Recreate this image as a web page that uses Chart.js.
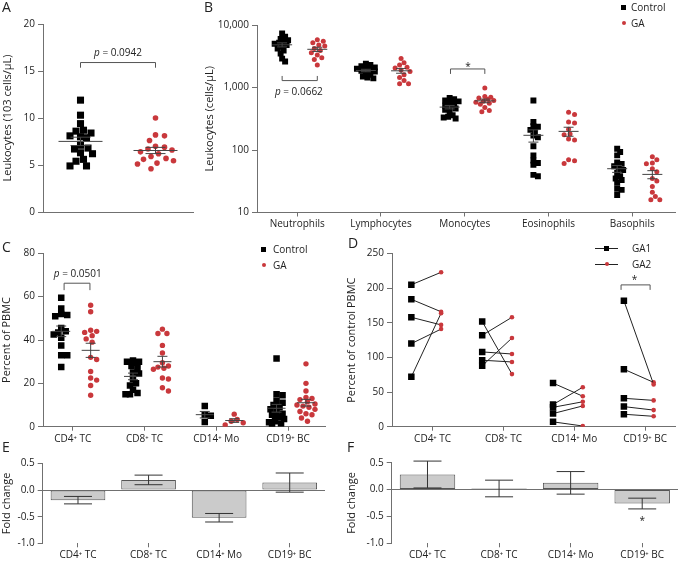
<!DOCTYPE html>
<html>
<head>
<meta charset="utf-8">
<script src="https://cdn.jsdelivr.net/npm/chart.js@4.4.1/dist/chart.umd.min.js"></script>
<style>
  body { margin: 0; background: #fff; font-family: 'Open Sans', sans-serif; color: #222; }
  #fig { position: relative; width: 680px; height: 561px; overflow: hidden; }
  canvas { position: absolute; }
  .lab { position: absolute; font-size: 14px; line-height: 14px; }
  .li { position: absolute; font-size: 10px; line-height: 14px; white-space: nowrap; }
  .sq { position: absolute; width: 5px; height: 5px; background: #000; }
  .dt { position: absolute; width: 4px; height: 4px; border-radius: 50%; background: #c9383c; }
  .ln { position: absolute; height: 1px; background: #222; }
</style>
</head>
<body>
<div id="fig">
  <canvas id="cA" width="205" height="230" style="left:0;top:0"></canvas>
  <canvas id="cB" width="477" height="240" style="left:203px;top:0"></canvas>
  <canvas id="cC" width="340" height="215" style="left:0;top:235px"></canvas>
  <canvas id="cD" width="340" height="215" style="left:340px;top:235px"></canvas>
  <canvas id="cE" width="340" height="111" style="left:0;top:450px"></canvas>
  <canvas id="cF" width="340" height="111" style="left:340px;top:450px"></canvas>

  <div class="lab" style="left:2px;top:0">A</div>
  <div class="lab" style="left:204px;top:0">B</div>
  <div class="lab" style="left:2px;top:240px">C</div>
  <div class="lab" style="left:348px;top:236px">D</div>
  <div class="lab" style="left:2px;top:440px">E</div>
  <div class="lab" style="left:347px;top:440px">F</div>

  <!-- legend B -->
  <div class="li" style="left:621px;top:0;padding-left:10px"><span class="sq" style="left:0;top:4.5px"></span>Control</div>
  <div class="li" style="left:621px;top:15.5px;padding-left:10px"><span class="dt" style="left:0.5px;top:5px"></span>GA</div>
  <!-- legend C -->
  <div class="li" style="left:261px;top:242px;padding-left:12px"><span class="sq" style="left:0;top:4.5px"></span>Control</div>
  <div class="li" style="left:261px;top:258px;padding-left:12px"><span class="dt" style="left:0.5px;top:5px"></span>GA</div>
  <!-- legend D -->
  <div class="li" style="left:595px;top:241px;padding-left:37px"><span class="ln" style="left:0;top:7px;width:23px"></span><span class="sq" style="left:9px;top:4.5px"></span>GA1</div>
  <div class="li" style="left:595px;top:257px;padding-left:37px"><span class="ln" style="left:0;top:7px;width:23px"></span><span class="dt" style="left:9.5px;top:5px"></span>GA2</div>
</div>

<script>
// ---- data ----
const leukoControl = [11.9, 10.3, 9.4, 8.7, 8.6, 8.4, 8.1, 8.0, 7.9, 7.1, 6.8, 6.7, 6.3, 6.2, 5.6, 5.4, 4.9, 4.9];
const leukoGA = [10.0, 8.2, 8.1, 7.6, 7.0, 6.9, 6.7, 6.6, 6.4, 6.2, 5.9, 5.7, 5.6, 5.45, 5.2, 5.1, 4.6];

const cellTypes = ['Neutrophils', 'Lymphocytes', 'Monocytes', 'Eosinophils', 'Basophils'];
const countsControl = [
  [7300, 6500, 6000, 5700, 5400, 5200, 5000, 4800, 4500, 4200, 3900, 3500, 2900, 2600],
  [2400, 2300, 2200, 2100, 2000, 2000, 1900, 1850, 1800, 1700, 1600, 1500, 1450, 1400],
  [680, 650, 620, 600, 560, 530, 510, 480, 460, 440, 400, 360, 340, 330, 320],
  [620, 280, 240, 235, 210, 200, 170, 160, 115, 82, 68, 62, 58, 40, 38],
  [105, 93, 82, 63, 60, 55, 52, 48, 43, 38, 35, 33, 30, 24, 23, 19]
];
const countsGA = [
  [5800, 5500, 5200, 4800, 4600, 4200, 3900, 3600, 3300, 3000, 2800, 2300],
  [2900, 2500, 2300, 2100, 2050, 1900, 1800, 1600, 1450, 1300, 1150, 1150],
  [980, 720, 700, 680, 650, 620, 600, 580, 560, 540, 480, 430, 410],
  [400, 370, 280, 270, 215, 180, 175, 150, 145, 70, 67, 61],
  [78, 70, 62, 60, 50, 45, 35, 32, 26, 21, 18, 16, 16]
];
const countTicks = [10, 100, 1000, 10000];

const pbmcTypes = ['CD4⁺ TC', 'CD8⁺ TC', 'CD14⁺ Mo', 'CD19⁺ BC'];
const pbmcControl = [
  [59.5, 54.5, 52, 51.5, 51, 45.5, 44, 43.5, 42.5, 41, 37.5, 33, 33, 27.5],
  [30.5, 30, 30, 29.5, 28, 27, 25, 24.5, 22, 20, 19, 17, 15.5, 15, 15],
  [9.5, 5.5, 5, 2.2],
  [31.5, 15, 14.5, 12, 11, 10, 9, 8, 7, 6, 5.5, 4.5, 3.5, 2.5, 2, 1.5, 1]
];
const pbmcGA = [
  [56, 53, 44.5, 44, 43.5, 42, 40.5, 39, 32, 31, 25.5, 22.5, 21.5, 19, 14.5],
  [45, 43, 43, 37.5, 34, 29.5, 28, 27.5, 27, 26.5, 22.5, 22, 18, 16.5],
  [5.8, 3.3, 2.5, 1.8, 0.8],
  [29, 20, 16.5, 13.5, 13, 12.5, 11.5, 10.5, 10, 9.5, 9, 8, 7, 6, 5.5, 4, 2.5]
];

// percent of control PBMC, paired GA1 -> GA2
const ga1Pct = [[205, 184, 158, 120, 72], [152, 132, 108, 96, 88], [63, 32, 28, 19, 7], [182, 83, 41, 29, 18]];
const ga2Pct = [[223, 166, 147, 141, 164], [76, 158, 105, 93.5, 128], [44, 57, 36, 30, 1], [61, 64, 38, 24, 15]];

const foldE = [-0.19, 0.19, -0.52, 0.14];
const semE = [0.07, 0.09, 0.08, 0.18];
const foldF = [0.28, 0.02, 0.125, -0.26];
const semF = [0.25, 0.155, 0.21, 0.1];

// ---- style ----
const FAM = "'Open Sans', sans-serif";
const AX = '#707070', TXT = '#222', RED = '#c9383c', BLK = '#000';
Chart.defaults.font.family = FAM;
Chart.defaults.font.size = 10;
Chart.defaults.color = TXT;
Chart.defaults.animation = false;
Chart.defaults.responsive = false;
Chart.defaults.devicePixelRatio = 1;
Chart.defaults.events = [];
Chart.defaults.plugins.legend.display = false;
Chart.defaults.plugins.tooltip.enabled = false;

const mean = a => a.reduce((s, v) => s + v, 0) / a.length;
const sem = a => {
  const m = mean(a);
  return Math.sqrt(a.reduce((s, v) => s + (v - m) ** 2, 0) / (a.length - 1) / a.length);
};

function yScale(o) {
  const s = {
    type: o.type || 'linear', min: o.min, max: o.max,
    border: { color: AX },
    grid: {
      drawOnChartArea: !!o.zero,
      color: o.zero ? (c => c.tick.value === 0 ? AX : 'rgba(0,0,0,0)') : AX,
      tickColor: AX, tickLength: 5
    },
    ticks: { padding: 3 },
    title: { display: true, text: o.title, font: { size: 11 }, padding: { top: o.tpad, bottom: 0 } },
    afterFit: sc => { sc.width = o.w; }
  };
  if (o.step) s.ticks.stepSize = o.step;
  if (o.fmt) s.ticks.callback = o.fmt;
  if (o.tickVals) s.afterBuildTicks = sc => { sc.ticks = o.tickVals.map(v => ({ value: v })); };
  return s;
}

function xScale(o) {
  const show = o.ticks !== false;
  const s = {
    type: o.type || 'linear',
    border: { display: o.border !== false, color: AX },
    grid: { drawOnChartArea: false, offset: false, color: AX, tickLength: 4, drawTicks: show },
    ticks: { display: show, padding: 2, maxRotation: 0, autoSkip: false },
    afterFit: sc => { sc.height = o.h; }
  };
  if (o.min !== undefined) { s.min = o.min; s.max = o.max; }
  if (o.cats) {
    s.ticks.callback = v => o.cats[v];
    s.afterBuildTicks = sc => { sc.ticks = o.cats.map((c, i) => ({ value: i })); };
  }
  return s;
}

// spread the dots of each group sideways so they do not sit on top of each other
function swarm(py, minD, maxOff) {
  const order = py.map((p, i) => i).sort((a, b) => py[a] - py[b]);
  const off = py.map(() => 0);
  const done = [];
  order.forEach(i => {
    let best = 0, bestD = -1;
    for (let k = 0; ; k++) {
      const o = (k % 2 ? 1 : -1) * Math.ceil(k / 2) * 1.5;
      if (Math.abs(o) > maxOff) break;
      let d = Infinity;
      done.forEach(j => { d = Math.min(d, Math.hypot(off[j] - o, py[j] - py[i])); });
      if (d >= minD) { best = o; break; }
      if (d > bestD) { bestD = d; best = o; }
    }
    off[i] = best;
    done.push(i);
  });
  return off;
}

function spread(chart) {
  const xs = chart.scales.x, ys = chart.scales.y;
  const unit = xs.getPixelForValue(1) - xs.getPixelForValue(0);
  chart.data.datasets.forEach(ds => {
    if (!ds.groups) return;
    ds.data = ds.groups.flatMap(g =>
      swarm(g.vals.map(v => ys.getPixelForValue(v)), ds.minD, ds.maxOff)
        .map((off, k) => ({ x: g.x + off / unit, y: g.vals[k] })));
  });
  chart.update('none');
}

function drawText(ctx, text, cx, cy) {
  ctx.fillStyle = TXT;
  ctx.textBaseline = 'middle';
  ctx.textAlign = 'left';
  if (text.startsWith('p ')) {
    const rest = text.slice(1);
    ctx.font = 'italic 10px ' + FAM;
    const w1 = ctx.measureText('p').width;
    ctx.font = '10px ' + FAM;
    const w2 = ctx.measureText(rest).width;
    const sx = cx - (w1 + w2) / 2;
    ctx.font = 'italic 10px ' + FAM;
    ctx.fillText('p', sx, cy);
    ctx.font = '10px ' + FAM;
    ctx.fillText(rest, sx + w1, cy);
  } else {
    ctx.font = '10px ' + FAM;
    ctx.textAlign = 'center';
    ctx.fillText(text, cx, cy);
  }
}

const notes = {
  id: 'notes',
  afterDatasetsDraw(chart, args, o) {
    if (!o) return;
    const { ctx } = chart, xs = chart.scales.x, ys = chart.scales.y;
    const line = (pts, color) => {
      ctx.strokeStyle = color;
      ctx.beginPath();
      pts.forEach(([x, y], i) => (i ? ctx.lineTo(x, y) : ctx.moveTo(x, y)));
      ctx.stroke();
    };
    ctx.save();
    ctx.lineWidth = 1;
    if (o.mean) {
      chart.data.datasets.forEach(ds => (ds.groups || []).forEach(g => {
        const m = mean(g.vals), e = sem(g.vals);
        const cx = xs.getPixelForValue(g.x);
        const ym = ys.getPixelForValue(m), y1 = ys.getPixelForValue(m + e), y2 = ys.getPixelForValue(m - e);
        line([[cx - o.mean.w, ym], [cx + o.mean.w, ym]], o.mean.color);
        line([[cx - o.mean.c, y1], [cx + o.mean.c, y1]], o.mean.color);
        line([[cx - o.mean.c, y2], [cx + o.mean.c, y2]], o.mean.color);
        line([[cx, y1], [cx, y2]], o.mean.color);
      }));
    }
    if (o.err) {
      chart.getDatasetMeta(0).data.forEach((bar, i) => {
        const v = chart.data.datasets[0].data[i];
        const y1 = ys.getPixelForValue(v + o.err[i]), y2 = ys.getPixelForValue(v - o.err[i]);
        line([[bar.x, y1], [bar.x, y2]], '#333');
        line([[bar.x - 14, y1], [bar.x + 14, y1]], '#333');
        line([[bar.x - 14, y2], [bar.x + 14, y2]], '#333');
      });
    }
    (o.brackets || []).forEach(b => {
      const x1 = xs.getPixelForValue(b.x1), x2 = xs.getPixelForValue(b.x2);
      const y = ys.getPixelForValue(b.y), y2 = ys.getPixelForValue(b.y2);
      line([[x1, y2], [x1, y], [x2, y], [x2, y2]], '#555');
    });
    (o.labels || []).forEach(t => drawText(ctx, t.text, xs.getPixelForValue(t.x), ys.getPixelForValue(t.y)));
    ctx.restore();
  }
};
Chart.register(notes);

// ---- A ----
const chartA = new Chart(document.getElementById('cA'), {
  type: 'scatter',
  data: { datasets: [
    { groups: [{ x: 0, vals: leukoControl }], data: [], pointStyle: 'rect', pointRadius: 5, backgroundColor: BLK, borderWidth: 0, minD: 7, maxOff: 12 },
    { groups: [{ x: 1, vals: leukoGA }], data: [], pointStyle: 'circle', pointRadius: 2.8, backgroundColor: RED, borderWidth: 0, minD: 8, maxOff: 18 }
  ] },
  options: {
    layout: { padding: { top: 24, right: 12, left: 0, bottom: 0 } },
    scales: {
      x: xScale({ min: -0.5, max: 1.5, h: 18, ticks: false }),
      y: yScale({ min: 0, max: 20, step: 5, w: 43, title: 'Leukocytes (103 cells/μL)', tpad: 1 })
    },
    plugins: { notes: {
      mean: { w: 22, c: 10, color: '#444' },
      brackets: [{ x1: 0, x2: 1, y: 15.9, y2: 15.35 }],
      labels: [{ x: 0.5, y: 16.9, text: 'p = 0.0942' }]
    } }
  }
});
spread(chartA);

// ---- B ----
const chartB = new Chart(document.getElementById('cB'), {
  type: 'scatter',
  data: { datasets: [
    { groups: cellTypes.map((c, i) => ({ x: i - 0.18, vals: countsControl[i] })), data: [], pointStyle: 'rect', pointRadius: 4.2, backgroundColor: BLK, borderWidth: 0, minD: 4, maxOff: 9 },
    { groups: cellTypes.map((c, i) => ({ x: i + 0.24, vals: countsGA[i] })), data: [], pointStyle: 'circle', pointRadius: 2.5, backgroundColor: RED, borderWidth: 0, minD: 5, maxOff: 10 }
  ] },
  options: {
    layout: { padding: { top: 25, right: 2, left: 0, bottom: 0 } },
    scales: {
      x: xScale({ min: -0.48, max: 4.52, h: 27.5, cats: cellTypes }),
      y: yScale({ type: 'logarithmic', min: 10, max: 10000, w: 54, tickVals: countTicks,
                  fmt: v => v.toLocaleString('en-US'), title: 'Leukocytes (cells/μL)', tpad: 0 })
    },
    plugins: { notes: {
      mean: { w: 10, c: 5, color: '#444' },
      brackets: [{ x1: -0.18, x2: 0.24, y: 1290, y2: 1530 }, { x1: 1.83, x2: 2.24, y: 1980, y2: 1650 }],
      labels: [{ x: 0.02, y: 830, text: 'p = 0.0662' }, { x: 2.04, y: 2150, text: '*' }]
    } }
  }
});
spread(chartB);

// ---- C ----
const chartC = new Chart(document.getElementById('cC'), {
  type: 'scatter',
  data: { datasets: [
    { groups: pbmcTypes.map((c, i) => ({ x: i - 0.16, vals: pbmcControl[i] })), data: [], pointStyle: 'rect', pointRadius: 4.6, backgroundColor: BLK, borderWidth: 0, minD: 5, maxOff: 8 },
    { groups: pbmcTypes.map((c, i) => ({ x: i + 0.25, vals: pbmcGA[i] })), data: [], pointStyle: 'circle', pointRadius: 2.7, backgroundColor: RED, borderWidth: 0, minD: 6, maxOff: 10 }
  ] },
  options: {
    layout: { padding: { top: 18.3, right: 15, left: 0, bottom: 0 } },
    scales: {
      x: xScale({ min: -0.414, max: 3.515, h: 23.3, cats: pbmcTypes }),
      y: yScale({ min: 0, max: 80, step: 20, w: 43, title: 'Percent of PBMC', tpad: 0.5 })
    },
    plugins: { notes: {
      mean: { w: 9, c: 5, color: '#444' },
      brackets: [{ x1: -0.12, x2: 0.24, y: 66.2, y2: 63 }],
      labels: [{ x: 0.07, y: 70.3, text: 'p = 0.0501' }]
    } }
  }
});
spread(chartC);

// ---- D ----
const pairSets = [];
pbmcTypes.forEach((c, i) => ga1Pct[i].forEach((v, k) => pairSets.push({
  data: [{ x: i - 0.3, y: v }, { x: i + 0.12, y: ga2Pct[i][k] }],
  showLine: true, borderColor: '#222', borderWidth: 1,
  pointStyle: ['rect', 'circle'], pointRadius: [4.6, 2.3],
  pointBackgroundColor: [BLK, RED], pointBorderWidth: 0
})));
new Chart(document.getElementById('cD'), {
  type: 'scatter',
  data: { datasets: pairSets },
  options: {
    layout: { padding: { top: 18.6, right: 2, left: 0, bottom: 0 } },
    scales: {
      x: xScale({ min: -0.573, max: 3.427, h: 23.3, cats: pbmcTypes }),
      y: yScale({ min: 0, max: 250, step: 50, w: 52, title: 'Percent of control PBMC', tpad: 5 })
    },
    plugins: { notes: {
      brackets: [{ x1: 2.66, x2: 3.07, y: 204.8, y2: 197.6 }],
      labels: [{ x: 2.85, y: 212, text: '*' }]
    } }
  }
});

// ---- E / F ----
function foldChart(id, vals, errs, o) {
  return new Chart(document.getElementById(id), {
    type: 'bar',
    data: { labels: pbmcTypes, datasets: [{
      data: vals, backgroundColor: '#cbcbcb', borderColor: '#555', borderWidth: 1,
      borderSkipped: false, barPercentage: 0.775, categoryPercentage: 1
    }] },
    options: {
      layout: { padding: { top: o.top, right: o.right, left: 0, bottom: 0 } },
      scales: {
        x: xScale({ type: 'category', h: 17.7, border: false }),
        y: yScale({ min: -1, max: 0.5, step: 0.5, w: o.w, zero: true, fmt: v => v.toFixed(1), title: 'Fold change', tpad: o.tpad })
      },
      plugins: { notes: { err: errs, labels: o.labels || [] } }
    }
  });
}
foldChart('cE', foldE, semE, { top: 13.4, right: 15, w: 42.7, tpad: 0 });
foldChart('cF', foldF, semF, { top: 12.7, right: 2, w: 51.7, tpad: 5, labels: [{ x: 3, y: -0.58, text: '*' }] });
</script>
</body>
</html>
